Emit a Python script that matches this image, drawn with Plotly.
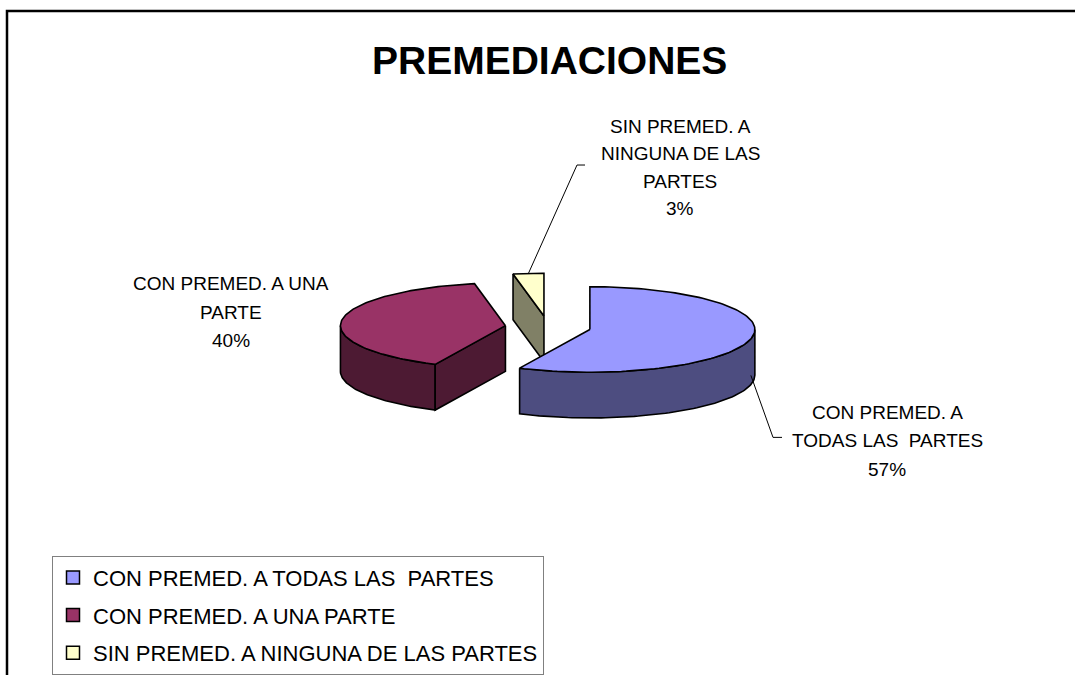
import numpy as np
import plotly.graph_objects as go

# ---- data ----
categories = ["CON PREMED. A TODAS LAS  PARTES",
              "CON PREMED. A UNA PARTE",
              "SIN PREMED. A NINGUNA DE LAS PARTES"]
values = [57, 40, 3]
label_lines = [["CON PREMED. A", "TODAS LAS  PARTES"],
               ["CON PREMED. A UNA", "PARTE"],
               ["SIN PREMED. A", "NINGUNA DE LAS", "PARTES"]]
title_text = "PREMEDIACIONES"

# ---- style / layout constants ----
top_colors = ["#9999FF", "#993366", "#FFFFCC"]
side_colors = ["#4D4D80", "#4D1A33", "#808066"]
W, H = 1075, 675
CX, CY = 548, 329          # pie centre (pixels)
RX, RY = 165, 43           # ellipse radii
DEPTH = 46
EXPLODE = 0.26
FONT = "Liberation Sans, Arial, sans-serif"

# label anchor (centre x, first line y, line step) for each slice
label_pos = [(887, 415, 28.5), (231, 285, 29), (680, 127, 27.7)]
# leader elbow points (end of slanted part, end of horizontal tick)
leader_pts = [((773, 440), (782, 440)), None, ((577, 166), (585, 166))]

fig = go.Figure()

total = float(sum(values))
starts, ends = [], []
acc = 0.0
for v in values:
    ts = 90 - acc / total * 360
    te = ts - v / total * 360
    starts.append(ts)
    ends.append(te)
    acc += v


def pt(cx, cy, t, dy=0.0):
    r = np.deg2rad(t)
    return cx + RX * np.cos(r), cy - RY * np.sin(r) + dy


def poly(xs, ys, fill):
    fig.add_trace(go.Scatter(x=list(xs) + [xs[0]], y=list(ys) + [ys[0]],
                             mode="lines", fill="toself", fillcolor=fill,
                             line=dict(color="black", width=1.6),
                             hoverinfo="skip", showlegend=False))


centres = []
for i, v in enumerate(values):
    ts, te = starts[i], ends[i]
    mid = np.deg2rad((ts + te) / 2)
    centres.append((CX + EXPLODE * RX * np.cos(mid), CY - EXPLODE * RY * np.sin(mid)))

order = [2, 1, 0]  # back to front
for i in order:
    ts, te = starts[i], ends[i]
    cx, cy = centres[i]
    # outer wall (front half: angles in (180,360) mod 360)
    for k in range(-2, 2):
        a0, a1 = 180 + 360 * k, 360 + 360 * k
        lo, hi = max(te, a0), min(ts, a1)
        if hi > lo:
            ang = np.linspace(lo, hi, 80)
            xt, yt = pt(cx, cy, ang)
            xb, yb = pt(cx, cy, ang[::-1], DEPTH)
            poly(np.concatenate([xt, xb]), np.concatenate([yt, yb]), side_colors[i])
    # radial faces that face the viewer
    for t, sgn in ((ts, -1), (te, 1)):
        c = np.cos(np.deg2rad(t))
        if (sgn == -1 and c < -1e-3) or (sgn == 1 and c > 1e-3):
            ex, ey = pt(cx, cy, t)
            poly([cx, ex, ex, cx], [cy, ey, ey + DEPTH, cy + DEPTH], side_colors[i])
    # top face
    ang = np.linspace(te, ts, 120)
    xt, yt = pt(cx, cy, ang)
    poly(np.concatenate([[cx], xt]), np.concatenate([[cy], yt]), top_colors[i])

# leader lines
for i in range(len(values)):
    if leader_pts[i] is None:
        continue
    cx, cy = centres[i]
    mid = (starts[i] + ends[i]) / 2
    sx, sy = pt(cx, cy, mid)
    if np.sin(np.deg2rad(mid)) < 0:
        sy += DEPTH * 0.8
    (ax, ay), (bx, by) = leader_pts[i]
    fig.add_trace(go.Scatter(x=[sx, ax, bx], y=[sy, ay, by], mode="lines",
                             line=dict(color="black", width=1),
                             hoverinfo="skip", showlegend=False))

# labels
for i, v in enumerate(values):
    lx, ly, step = label_pos[i]
    lines = label_lines[i] + [f"{v}%"]
    for j, s in enumerate(lines):
        fig.add_annotation(x=lx, y=ly + j * step, text=s, showarrow=False,
                           xanchor="center", yanchor="middle",
                           font=dict(family=FONT, size=19, color="black"))

# legend entries
for i, name in enumerate(categories):
    fig.add_trace(go.Scatter(x=[None], y=[None], mode="markers", name=name,
                             legendgroup=str(i),
                             marker=dict(symbol="square", size=13, color=top_colors[i],
                                         line=dict(color="black", width=1.5))))

fig.add_annotation(x=549, y=61, text=f"<b>{title_text}</b>", showarrow=False,
                   xanchor="center", yanchor="middle",
                   font=dict(family=FONT, size=39, color="black"))

# outer frame
fig.add_shape(type="rect", xref="paper", yref="paper",
              x0=7 / W, y0=1 - 11 / H, x1=1.02, y1=-0.02,
              line=dict(color="black", width=2.5))

fig.update_layout(
    width=W, height=H, autosize=False,
    margin=dict(l=0, r=0, t=0, b=0),
    paper_bgcolor="white", plot_bgcolor="white",
    xaxis=dict(range=[0, W], visible=False, fixedrange=True),
    yaxis=dict(range=[H, 0], visible=False, fixedrange=True),
    showlegend=True,
    legend=dict(x=52 / W, y=1 - 559 / H, xanchor="left", yanchor="top",
                bordercolor="#808080", borderwidth=1, bgcolor="white",
                font=dict(family=FONT, size=22, color="black"),
                traceorder="grouped", tracegroupgap=6, itemclick=False,
                itemdoubleclick=False),
)

fig.write_html("out.html", config={"displayModeBar": False},
               post_script="document.body.style.margin='0';")
